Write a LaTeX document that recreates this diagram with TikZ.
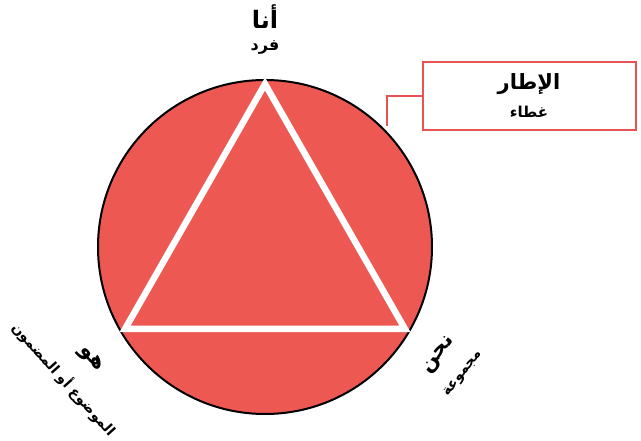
\documentclass[tikz,border=0pt]{standalone}
\usepackage{fontspec}
\TeXXeTstate=1
\newfontfamily\arabicfont[Script=Arabic]{DejaVu Sans}
\definecolor{redfill}{RGB}{238,88,83}
\definecolor{redline}{RGB}{232,82,82}
\tikzset{
  big/.style={font=\arabicfont\bfseries\fontsize{21}{24}\selectfont, inner sep=0pt},
  small/.style={font=\arabicfont\bfseries\fontsize{14}{16}\selectfont, inner sep=0pt},
  frame/.style={draw=redline, line width=2pt, fill=white},
  link/.style={draw=redline, line width=2pt},
}
\begin{document}
\begin{tikzpicture}[x=1pt,y=-1pt]
\useasboundingbox (0,0) rectangle (641,441);
\node[circle, fill=redfill, draw=black, line width=2pt, minimum size=334pt, inner sep=0pt] (c) at (265,247) {};
\coordinate (t1) at (265,84);
\coordinate (t2) at (125,329);
\coordinate (t3) at (405,329);
\draw[white, line width=6.5pt, line join=miter] (t1) -- (t2) -- (t3) -- cycle;
% top labels
\node[big, font=\arabicfont\bfseries\fontsize{24}{26}\selectfont] (ana) at (265,17) {\beginR أنا\endR};
\node[small, font=\arabicfont\bfseries\fontsize{16}{18}\selectfont] (fard) at (265,47) {\beginR فرد\endR};
% frame box
\node[frame, minimum width=213pt, minimum height=68pt, inner sep=0pt] (box) at (529.5,96) {};
\node[big] (itar) at (529,84) {\beginR الإطار\endR};
\node[small, font=\arabicfont\bfseries\fontsize{15}{17}\selectfont] (ghita) at (529,112) {\beginR غطاء\endR};
\coordinate (lk) at (387,126);
\draw[link] (box.west) -| (lk);
% bottom-left
\node[big, rotate=-48] (huwa) at (91,359) {\beginR هو\endR};
\node[small, rotate=-48] (mawdu) at (64,379) {\beginR الموضوع أو المضمون\endR};
% bottom-right
\node[big, rotate=52] (nahnu) at (439,355) {\beginR نحن\endR};
\node[small, rotate=52] (majmu) at (463,374) {\beginR مجموعة\endR};
\end{tikzpicture}
\end{document}
